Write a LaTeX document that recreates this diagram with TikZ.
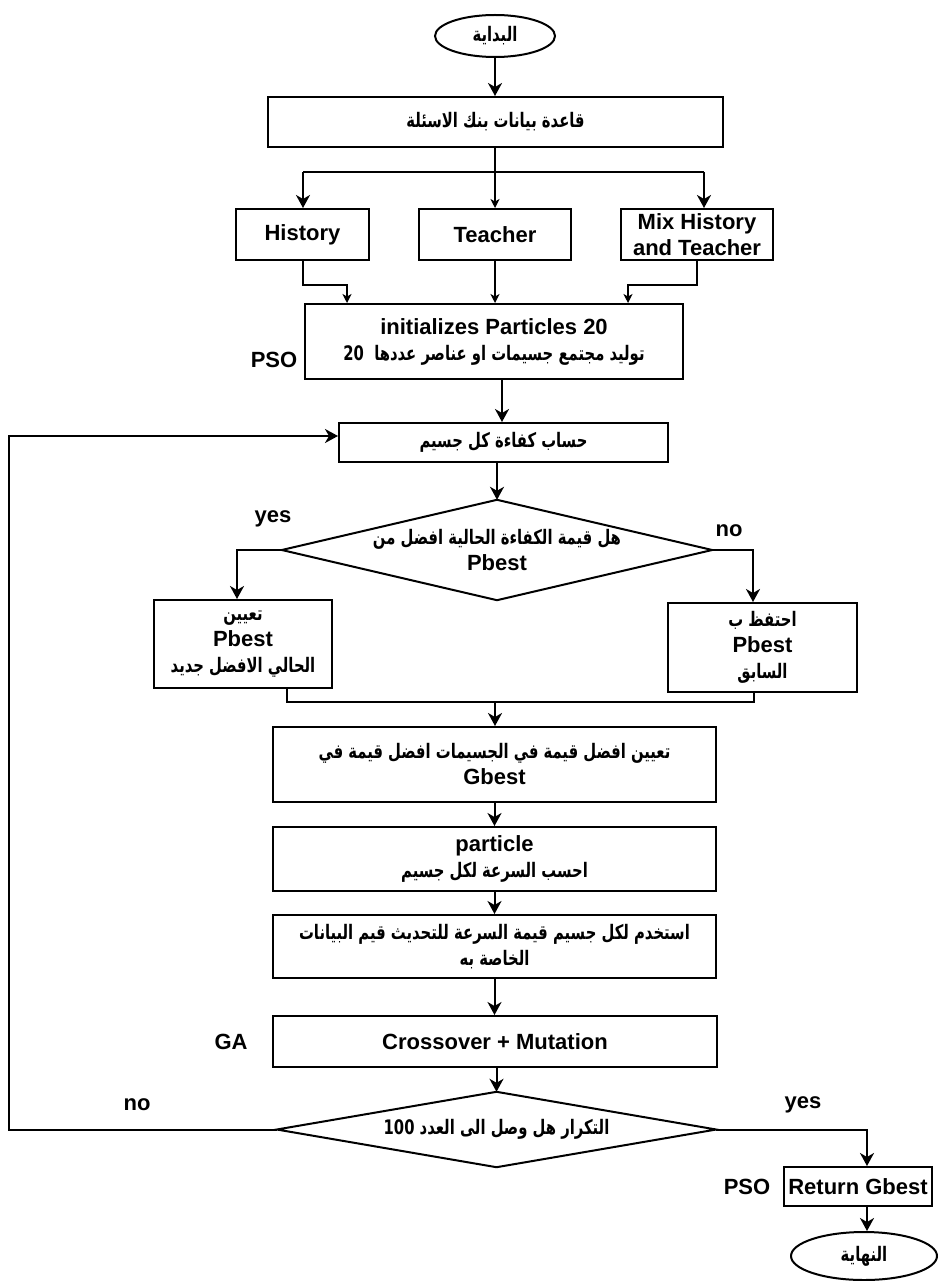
\documentclass[tikz,border=0pt]{standalone}
\usepackage{fontspec}
\setmainfont{Liberation Sans}
\newfontfamily\arfont[Script=Arabic,FakeStretch=0.74]{DejaVu Sans}
\TeXXeTstate=1
\usetikzlibrary{arrows.meta,shapes.geometric}
\newcommand{\AR}[1]{{\arfont\bfseries\fontsize{20}{26}\selectfont\beginR #1\endR}}
\begin{document}
\begin{tikzpicture}[x=1pt,y=-1pt,
  every node/.style={font=\bfseries\fontsize{22}{26}\selectfont, inner sep=0pt, align=center},
  box/.style={draw, line width=2pt},
  oval/.style={ellipse, draw, line width=2pt},
  lbl/.style={},
  conn/.style={line width=2pt},
  arr/.style={line width=2pt, -{Stealth[length=13pt,width=14pt,inset=4pt]}},
  tarr/.style={line width=1.2pt, -{Stealth[length=9pt,width=9pt,inset=2.5pt]}}]
\fill[white] (0,0) rectangle (941,1281);
\useasboundingbox (0,0) rectangle (941,1281);

% nodes
\node[oval, minimum width=120pt, minimum height=42pt] (start) at (495,36) {\AR{البداية}};
\node[box, minimum width=455pt, minimum height=50pt] (db) at (495.5,122) {\AR{قاعدة بيانات بنك الاسئلة}};
\node[box, minimum width=133pt, minimum height=51pt] (hist) at (302.5,234.5) {History};
\node[box, minimum width=152pt, minimum height=51pt] (teach) at (495,234.5) {Teacher};
\node[box, minimum width=152pt, minimum height=51pt] (mix) at (697,234.5) {Mix History\\and Teacher};
\node[box, minimum width=378pt, minimum height=75pt] (init) at (494,341.5) {initializes Particles 20\\\AR{توليد مجتمع جسيمات او عناصر عددها\ \ 20}};
\node[box, minimum width=329pt, minimum height=39pt] (fit) at (503.5,442.5) {\AR{حساب كفاءة كل جسيم}};
\node[minimum width=430pt, minimum height=100pt] (d1) at (497,550) {\AR{هل قيمة الكفاءة الحالية افضل من}\\Pbest};
\node[box, minimum width=178pt, minimum height=88pt] (yesb) at (243,644) {\AR{تعيين}\\Pbest\\\AR{الحالي الافضل جديد}};
\node[box, minimum width=189pt, minimum height=89pt] (nob) at (762.5,647.5) {\AR{احتفظ ب}\\Pbest\\\AR{السابق}};
\node[box, minimum width=443pt, minimum height=75pt] (gb) at (494.5,764.5) {\AR{تعيين افضل قيمة في الجسيمات افضل قيمة في}\\Gbest};
\node[box, minimum width=443pt, minimum height=64pt] (vel) at (494.5,859) {particle\\\AR{احسب السرعة لكل جسيم}};
\node[box, minimum width=443pt, minimum height=63pt] (upd) at (494.5,946.5) {\AR{استخدم لكل جسيم قيمة السرعة للتحديث قيم البيانات}\\\AR{الخاصة به}};
\node[box, minimum width=444pt, minimum height=51pt] (cross) at (495,1041.5) {Crossover + Mutation};
\node[minimum width=439pt, minimum height=75pt] (d2) at (496.5,1129.5) {\AR{التكرار هل وصل الى العدد 100}};
\node[box, minimum width=148pt, minimum height=39pt] (ret) at (858,1186.5) {Return Gbest};
\node[oval, minimum width=146pt, minimum height=48pt] (end) at (864,1256) {\AR{النهاية}};

\draw[conn] (d1.north) -- (d1.east) -- (d1.south) -- (d1.west) -- cycle;
\draw[conn] (d2.north) -- (d2.east) -- (d2.south) -- (d2.west) -- cycle;

% labels
\node[lbl] (pso1) at (274,360) {PSO};
\node[lbl] (yes1) at (273,519) {yes};
\node[lbl] (no1) at (729,531) {no};
\node[lbl] (ga) at (231,1042) {GA};
\node[lbl] (no2) at (137,1105) {no};
\node[lbl] (yes2) at (803,1105) {yes};
\node[lbl] (pso2) at (747,1187) {PSO};

% coordinates
\coordinate (br) at (495,172);
\coordinate (bl) at (303,172);
\coordinate (brr) at (704,172);
\coordinate (h1) at (303,285);
\coordinate (h2) at (347,285);
\coordinate (m1) at (697,285);
\coordinate (m2) at (628,285);
\coordinate (c1) at (502,379);
\coordinate (y1) at (237,550);
\coordinate (n1) at (753,550);
\coordinate (mg) at (495,702);
\coordinate (ya) at (287,702);
\coordinate (na) at (754,702);
\coordinate (lt) at (9,436);
\coordinate (yr) at (867,1129.5);

% connectors
\draw[arr] (start.south) -- (start.south |- db.north);
\draw[conn] (db.south -| br) -- (br);
\draw[conn] (bl) -- (brr);
\draw[arr] (bl) -- (bl |- hist.north);
\draw[arr] (brr) -- (brr |- mix.north);
\draw[tarr] (br) -- (br |- teach.north);
\draw[tarr] (hist.south -| h1) -- (h1) -- (h2) -- (h2 |- init.north);
\draw[tarr] (teach.south) -- (teach.south |- init.north);
\draw[tarr] (mix.south -| m1) -- (m1) -- (m2) -- (m2 |- init.north);
\draw[arr] (c1 |- init.south) -- (c1 |- fit.north);
\draw[arr] (d1.north |- fit.south) -- (d1.north);
\draw[arr] (d1.west) -- (y1) -- (y1 |- yesb.north);
\draw[arr] (d1.east) -- (n1) -- (n1 |- nob.north);
\draw[conn] (ya |- yesb.south) -- (ya) -- (na) -- (na |- nob.south);
\draw[arr] (mg) -- (mg |- gb.north);
\draw[arr] (gb.south) -- (vel.north);
\draw[arr] (vel.south) -- (upd.north);
\draw[arr] (upd.south) -- (upd.south |- cross.north);
\draw[arr] (d2.north |- cross.south) -- (d2.north);
\draw[arr] (d2.west) -| (lt) -- (lt -| fit.west);
\draw[arr] (d2.east) -- (yr) -- (yr |- ret.north);
\draw[arr] (ret.south -| yr) -- (yr |- end.north);
\end{tikzpicture}
\end{document}
